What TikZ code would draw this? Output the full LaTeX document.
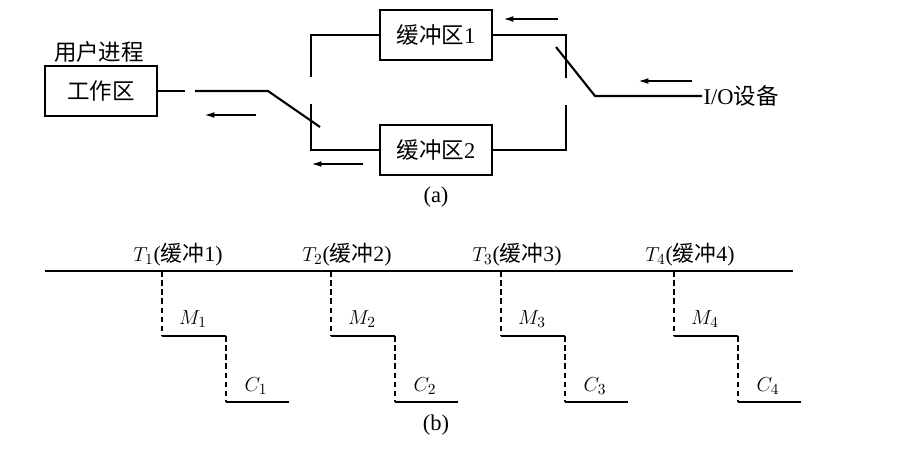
\documentclass[tikz,border=0pt]{standalone}
\usepackage{fontspec}
\setmainfont{Liberation Serif}
\newfontfamily\cjk{Noto Sans CJK SC}
\usetikzlibrary{arrows.meta}

\begin{document}
\begin{tikzpicture}[
    x=0.025cm, y=-0.025cm,
    box/.style={rectangle, draw, line width=1.8pt, minimum width=2.8cm, minimum height=1.25cm, inner sep=0pt, font=\fontsize{16}{18}\selectfont},
    lbl/.style={font=\fontsize{16}{18}\selectfont, inner sep=1pt},
    tlbl/.style={font=\fontsize{15.5}{17}\selectfont, inner sep=1pt},
    wire/.style={line width=1.5pt},
    flow/.style={-{Latex[length=8pt,width=4pt]}, line width=1.5pt},
    tick/.style={line width=1.3pt, dash pattern=on 4pt off 2.5pt}
]
\useasboundingbox (0,0) rectangle (904,452);

% ===== (a) double buffering =====
\node[box] (work) at (101,91) {{\cjk 工作区}};
\node[lbl] (proc) at (99,52) {{\cjk 用户进程}};
\node[box] (buf1) at (436,35) {{\cjk 缓冲区}1};
\node[box] (buf2) at (436,150) {{\cjk 缓冲区}2};
\node[lbl, anchor=west] (io) at (702,96) {I/O{\cjk 设备}};
\node[lbl] (capa) at (436,197) {(a)};

% left switch
\coordinate (wk1) at (185,91);
\coordinate (wk2) at (195,91);
\coordinate (wk3) at (268,91);
\coordinate (lsw) at (320,127);
\coordinate (lt) at (311,77);
\coordinate (lb) at (311,104);
\draw[wire] (work.east) -- (wk1);
\draw[wire] (wk2) -- (wk3) -- (lsw);
\draw[wire] (buf1.west) -| (lt);
\draw[wire] (buf2.west) -| (lb);

% right switch
\coordinate (rt) at (566,78);
\coordinate (rb) at (566,105);
\coordinate (rsw) at (556,47);
\coordinate (rk) at (595,96);
\draw[wire] (buf1.east) -| (rt);
\draw[wire] (buf2.east) -| (rb);
\draw[wire] (rsw) -- (rk) -- (io.west);

% data direction
\foreach \xa/\xb/\y in {256/203/115, 363/310/164, 558/502/19, 692/637/81}
    \draw[flow] (\xa,\y) -- (\xb,\y);

% ===== (b) timing =====
\coordinate (tl0) at (45,271);
\coordinate (tl1) at (793,271);
\draw[wire] (tl0) -- (tl1);

\foreach \i/\x in {1/162, 2/331, 3/501, 4/674} {
    \coordinate (s\i) at (\x,271);
    \coordinate (m\i a) at (\x,336);
    \coordinate (m\i b) at (\x+64,336);
    \coordinate (c\i a) at (\x+64,402);
    \coordinate (c\i b) at (\x+127,402);
    \draw[tick] (s\i) -- (m\i a);
    \draw[wire] (m\i a) -- (m\i b);
    \draw[tick] (m\i b) -- (c\i a);
    \draw[wire] (c\i a) -- (c\i b);
    \node[tlbl] (t\i) at (\x+16,255) {$T_\i$({\cjk 缓冲}\i)};
    \node[tlbl] (ml\i) at (\x+31,319) {$M_\i$};
    \node[tlbl] (cl\i) at (\x+94,386) {$C_\i$};
}

\node[lbl] (capb) at (436,425) {(b)};

\end{tikzpicture}
\end{document}
